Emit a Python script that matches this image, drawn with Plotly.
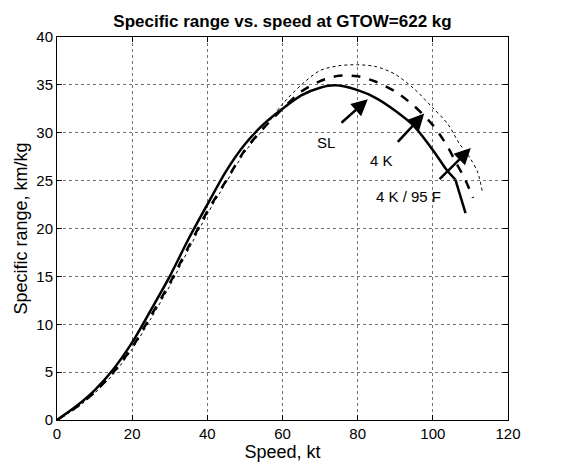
import plotly.graph_objects as go

# Data
sl_speed = [0, 5, 10, 15, 20, 25, 30, 35, 40, 45, 50, 55, 60, 65, 70, 74, 80, 85, 90, 95, 100, 103.7, 106, 108.7]
sl_range = [0, 1.4, 3.1, 5.3, 8.1, 11.5, 15.0, 18.9, 22.5, 26.0, 28.8, 30.9, 32.5, 33.9, 34.7, 34.95, 34.45, 33.6, 32.3, 30.7, 28.2, 26.1, 25.1, 21.6]

k4_speed = [0, 5, 10, 15, 20, 25, 30, 35, 40, 45, 50, 55, 60, 65, 70, 75, 80, 85, 90, 95, 100, 104, 106, 108.5, 110.7]
k4_range = [0, 1.3, 2.9, 5.0, 7.6, 10.9, 14.3, 18.1, 21.8, 25.0, 28.2, 30.5, 32.5, 34.3, 35.4, 35.95, 35.9, 35.3, 34.3, 32.8, 30.8, 28.5, 27.0, 25.2, 23.2]

hot_speed = [0, 5, 10, 15, 20, 25, 30, 35, 40, 45, 50, 55, 60, 65, 70, 75, 80, 85, 90, 95, 100, 104, 107, 110, 112, 113.2]
hot_range = [0, 1.2, 2.8, 4.8, 7.4, 10.6, 14.0, 17.8, 21.5, 24.8, 28.0, 30.4, 33.0, 35.0, 36.5, 37.0, 37.1, 36.9, 36.1, 34.6, 32.6, 30.9, 28.9, 27.3, 25.8, 23.8]

labels = ["SL", "4 K", "4 K / 95 F"]
label_x = [71.7, 86.4, 93.4]
label_y = [29.0, 27.15, 23.3]
arrow_tail_x = [75.3, 90.3, 101.4]
arrow_tail_y = [30.9, 28.9, 25.0]
arrow_head_x = [82.7, 97.7, 110.1]
arrow_head_y = [33.5, 32.0, 28.4]

x_ticks = [0, 20, 40, 60, 80, 100, 120]
y_ticks = [0, 5, 10, 15, 20, 25, 30, 35, 40]

FONT = "Liberation Sans, Arial, sans-serif"

fig = go.Figure()
fig.add_trace(go.Scatter(x=hot_speed, y=hot_range, mode="lines",
                         line=dict(color="black", width=1, dash="dot", shape="spline", smoothing=0.8),
                         name="4 K / 95 F"))
fig.add_trace(go.Scatter(x=k4_speed, y=k4_range, mode="lines",
                         line=dict(color="black", width=2.5, dash="dash", shape="spline", smoothing=0.8),
                         name="4 K"))
# SL curve: smooth part up to the kink, then straight final segment
fig.add_trace(go.Scatter(x=sl_speed[:-1], y=sl_range[:-1], mode="lines",
                         line=dict(color="black", width=2.5, shape="spline", smoothing=0.8), name="SL"))
fig.add_trace(go.Scatter(x=sl_speed[-2:], y=sl_range[-2:], mode="lines",
                         line=dict(color="black", width=2.5), name="SL end", showlegend=False))

annotations = []
for t, lx, ly in zip(labels, label_x, label_y):
    annotations.append(dict(x=lx, y=ly, xref="x", yref="y", text=t, showarrow=False,
                            font=dict(family=FONT, size=15, color="black")))
for tx, ty, hx, hy in zip(arrow_tail_x, arrow_tail_y, arrow_head_x, arrow_head_y):
    annotations.append(dict(x=hx, y=hy, ax=tx, ay=ty, xref="x", yref="y", axref="x", ayref="y",
                            text="", showarrow=True, arrowhead=2, arrowsize=1.3,
                            arrowwidth=2.5, arrowcolor="black", standoff=0))

axis_common = dict(showline=True, linecolor="black", linewidth=1, mirror="ticks",
                   ticks="inside", ticklen=5, tickcolor="black",
                   showgrid=True, gridcolor="rgba(0,0,0,0.55)", griddash="dot", gridwidth=1,
                   zeroline=False, tickfont=dict(family=FONT, size=15, color="black"))

fig.update_layout(
    width=561, height=468,
    margin=dict(l=57, r=53, t=37, b=48),
    paper_bgcolor="white", plot_bgcolor="white",
    showlegend=False,
    title=dict(text="<b>Specific range vs. speed at GTOW=622 kg</b>", x=0.5, xanchor="center",
               xref="paper", y=1 - 21 / 468, yanchor="middle",
               font=dict(family=FONT, size=17, color="black")),
    xaxis=dict(range=[0, 120], tickvals=x_ticks,
               title=dict(text="Speed, kt", font=dict(family=FONT, size=18, color="black"), standoff=2),
               **axis_common),
    yaxis=dict(range=[0, 40], tickvals=y_ticks,
               title=dict(text="Specific range, km/kg", font=dict(family=FONT, size=18, color="black"), standoff=4),
               **axis_common),
    annotations=annotations,
)

fig.write_html("out.html")
